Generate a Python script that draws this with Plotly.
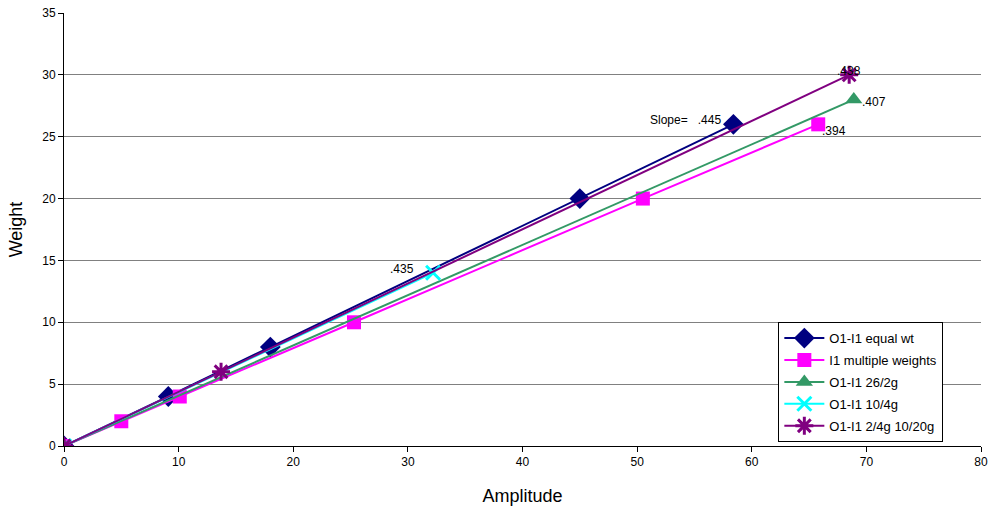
import plotly.graph_objects as go

# Amplitude / weight readings per calibration run
equal_amp = [0, 9.1, 18.0, 45.0, 58.4]
equal_wt = [0, 4, 8, 20, 26]

multi_amp = [0, 5.0, 10.1, 25.3, 50.5, 65.8]
multi_wt = [0, 2, 4, 10, 20, 26]

g26_amp = [0, 68.9]
g26_wt = [0, 28]

g10_amp = [0, 32.2]
g10_wt = [0, 14]

g2_amp = [0, 13.7, 68.5]
g2_wt = [0, 6, 30]

# Slope labels: text, anchor point, alignment, pixel offsets
slope_labels = [
    ("Slope=   .445", 58.4, 26, "right", "middle", -10, 4),
    (".394", 65.8, 26, "left", "top", 2, 2),
    (".407", 68.9, 28, "left", "middle", 6, -2),
    (".435", 32.2, 14, "right", "bottom", -17, -5),
    (".438", 68.5, 30, "center", "middle", 0, 4),
]

series = [
    ("O1-I1 equal wt", equal_amp, equal_wt, "#000080", "diamond", 16, 0),
    ("I1 multiple weights", multi_amp, multi_wt, "#FF00FF", "square", 14, 0),
    ("O1-I1 26/2g", g26_amp, g26_wt, "#339966", "triangle-up", 15, 0),
    ("O1-I1 10/4g", g10_amp, g10_wt, "#00FFFF", "x-thin-open", 14, 3),
    ("O1-I1 2/4g 10/20g", g2_amp, g2_wt, "#800080", "asterisk-open", 15, 3),
]

fig = go.Figure()
for name, xs, ys, color, sym, size, lw in series:
    marker = dict(symbol=sym, size=size, color=color)
    if lw:
        marker["line"] = dict(color=color, width=lw)
    fig.add_trace(go.Scatter(
        x=xs, y=ys, name=name, legendgroup=name, mode="lines+markers",
        line=dict(color=color, width=2), marker=marker,
    ))

for text, x, y, xa, ya, dx, dy in slope_labels:
    fig.add_annotation(
        x=x, y=y, text=text, showarrow=False, xanchor=xa, yanchor=ya,
        xshift=dx, yshift=dy, font=dict(size=12, color="#000000"),
    )

fig.update_layout(
    width=991, height=515,
    margin=dict(l=64, r=10, t=13, b=69, autoexpand=False),
    plot_bgcolor="white", paper_bgcolor="white",
    font=dict(family="Liberation Sans, Arial, sans-serif", size=12, color="#000000"),
    showlegend=True,
    legend=dict(
        x=0.779, y=0.286, xanchor="left", yanchor="top",
        bgcolor="white", bordercolor="#000000", borderwidth=1,
        font=dict(size=13), tracegroupgap=2, itemwidth=40,
    ),
    xaxis=dict(
        range=[0, 80], dtick=10, showgrid=False, zeroline=False, automargin=False,
        showline=True, linecolor="#000000", linewidth=1,
        ticks="outside", ticklen=5, tickcolor="#000000",
        title=dict(text="Amplitude", font=dict(size=18), standoff=20),
    ),
    yaxis=dict(
        range=[0, 35], dtick=5, showgrid=True, gridcolor="#808080", gridwidth=1,
        zeroline=False, showline=True, linecolor="#000000", linewidth=1, automargin=False,
        ticks="outside", ticklen=5, tickcolor="#000000",
        title=dict(text="Weight", font=dict(size=18), standoff=14),
    ),
)

fig.write_html("out.html")
